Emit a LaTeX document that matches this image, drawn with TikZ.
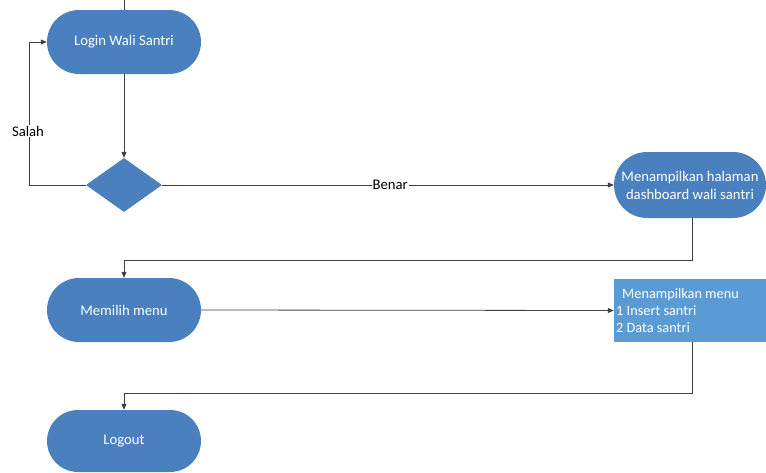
\documentclass[tikz,border=0pt]{standalone}
\usepackage{fontspec}
\setmainfont{Carlito}
\usetikzlibrary{shapes.misc,shapes.geometric,arrows.meta}
\definecolor{stad}{RGB}{74,128,189}
\definecolor{boxc}{RGB}{91,155,213}
\definecolor{linec}{RGB}{64,64,64}
\tikzset{
  stadium/.style={rounded rectangle, fill=stad, draw=none, text=white, minimum width=154pt, minimum height=64pt, inner sep=0pt, align=center, font=\fontsize{14.7}{18}\selectfont},
  decis/.style={diamond, fill=stad, draw=none, minimum width=76pt, minimum height=54pt, inner sep=0pt, aspect=1.4},
  menubox/.style={rectangle, fill=boxc, draw=none, minimum width=152pt, minimum height=63pt, inner sep=0pt},
  conn/.style={draw=linec, line width=0.8pt},
  arr/.style={conn, -{Triangle[length=6pt,width=5pt]}},
  lbl/.style={fill=white, inner sep=1pt, text=black, font=\fontsize{14.7}{18}\selectfont},
  wtext/.style={text=white, align=left, inner sep=0pt, font=\fontsize{14.3}{17}\selectfont}
}
\begin{document}
\begin{tikzpicture}[x=1pt,y=-1pt]
\useasboundingbox (0,0) rectangle (766,472);
\node[stadium] (login) at (124,42) {Login Wali Santri};
\node[decis] (dec) at (124,185) {};
\node[stadium, minimum width=152pt, minimum height=66pt] (dash) at (690,185) {Menampilkan halaman\\dashboard wali santri};
\node[stadium] (pilih) at (124,310) {Memilih menu};
\node[menubox] (menu) at (690,310.5) {};
\node[wtext, anchor=north west] (menutxt) at (616,288) {\hspace{6pt}Menampilkan menu\\1 Insert santri\\2 Data santri};
\node[stadium, minimum height=62pt] (logout) at (124,441) {Logout};
\coordinate (top) at (124,0);
\coordinate (sl) at (29,185);
\coordinate (sl2) at (29,42);
\coordinate (d1) at (692,260);
\coordinate (d2) at (124,260);
\coordinate (m1) at (692,393);
\coordinate (m2) at (124,393);

\draw[conn] (top) -- (login.north);
\draw[arr] (login.south) -- (dec.north);
\draw[conn] (dec.west) -- (sl) -- (sl2);
\draw[arr] (sl2) -- (login.west);
\node[lbl] (salah) at (28,131) {Salah};
\draw[arr] (dec.east) -- node[lbl, pos=0.505] (benar) {Benar} (dash.west);
\draw[conn] (dash.south -| d1) -- (d1) -- (d2);
\draw[arr] (d2) -- (pilih.north);
\draw[arr] (pilih.east) -- (menu.west);
\draw[conn] (menu.south -| m1) -- (m1) -- (m2);
\draw[arr] (m2) -- (logout.north);
\end{tikzpicture}
\end{document}
